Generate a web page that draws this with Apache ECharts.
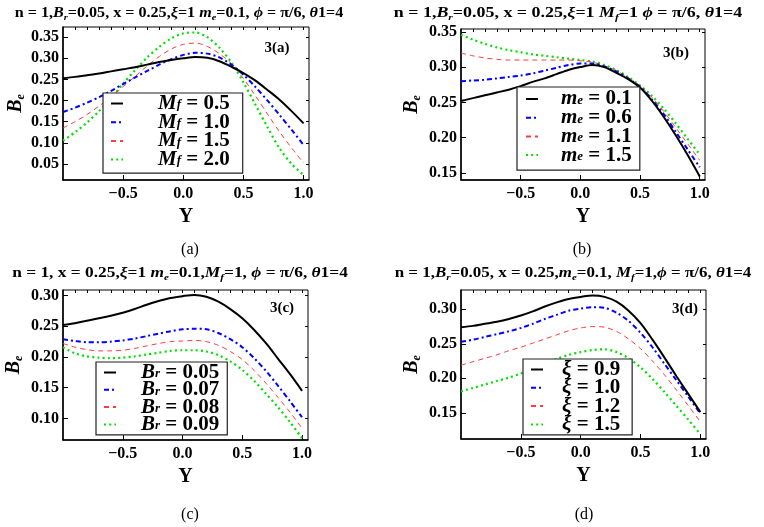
<!DOCTYPE html>
<html>
<head>
<meta charset="utf-8">
<script src="https://cdn.jsdelivr.net/npm/echarts@6/dist/echarts.min.js"></script>
<style>
  html, body { margin: 0; background: #fff; }
  #chart { width: 764px; height: 527px; }
</style>
</head>
<body>
<div id="chart"></div>
<script>
// Y positions sampled across the channel
const yPos = [-1.0, -0.9, -0.8, -0.7, -0.6, -0.5, -0.4, -0.3, -0.2, -0.1, 0.0,
  0.1, 0.2, 0.3, 0.4, 0.5, 0.6, 0.7, 0.8, 0.9, 1.0];

const xTicks = [-0.5, 0.0, 0.5, 1.0];
const topTicks = [-0.9, -0.8, -0.7, -0.6, -0.5, -0.4, -0.3, -0.2, -0.1, 0.0,
  0.1, 0.2, 0.3, 0.4, 0.5, 0.6, 0.7, 0.8, 0.9, 1.0];
const yTicksA = [0.05, 0.10, 0.15, 0.20, 0.25, 0.30, 0.35];
const yTicksB = [0.15, 0.20, 0.25, 0.30, 0.35];
const yTicksC = [0.10, 0.15, 0.20, 0.25, 0.30];
const yTicksD = [0.15, 0.20, 0.25, 0.30];

// 3(a) M_f
const mfValues = ['0.5', '1.0', '1.5', '2.0'];
const beMf05 = [0.253, 0.256, 0.260, 0.264, 0.269, 0.274, 0.279, 0.285, 0.291, 0.296, 0.300, 0.303, 0.301, 0.293, 0.280, 0.265, 0.247, 0.225, 0.202, 0.175, 0.146];
const beMf10 = [0.173, 0.183, 0.195, 0.208, 0.223, 0.239, 0.255, 0.270, 0.285, 0.298, 0.308, 0.313, 0.311, 0.302, 0.285, 0.261, 0.232, 0.200, 0.166, 0.131, 0.095];
const beMf15 = [0.135, 0.150, 0.167, 0.187, 0.209, 0.233, 0.257, 0.282, 0.304, 0.322, 0.333, 0.336, 0.328, 0.311, 0.287, 0.252, 0.211, 0.168, 0.126, 0.088, 0.052];
const beMf20 = [0.105, 0.125, 0.148, 0.175, 0.205, 0.240, 0.272, 0.302, 0.327, 0.347, 0.359, 0.361, 0.350, 0.325, 0.290, 0.243, 0.190, 0.137, 0.087, 0.050, 0.024];

// 3(b) m_e
const meValues = ['0.1', '0.6', '1.1', '1.5'];
const beMe01 = [0.252, 0.256, 0.260, 0.264, 0.268, 0.273, 0.279, 0.284, 0.290, 0.296, 0.300, 0.303, 0.300, 0.292, 0.283, 0.271, 0.252, 0.229, 0.203, 0.175, 0.145];
const beMe06 = [0.280, 0.281, 0.282, 0.284, 0.286, 0.288, 0.291, 0.295, 0.299, 0.303, 0.305, 0.305, 0.301, 0.294, 0.284, 0.272, 0.254, 0.233, 0.208, 0.183, 0.158];
const beMe11 = [0.320, 0.316, 0.313, 0.311, 0.310, 0.310, 0.310, 0.310, 0.310, 0.310, 0.309, 0.307, 0.302, 0.295, 0.285, 0.273, 0.257, 0.237, 0.214, 0.191, 0.168];
const beMe15 = [0.346, 0.339, 0.333, 0.328, 0.324, 0.321, 0.318, 0.316, 0.314, 0.312, 0.310, 0.308, 0.303, 0.296, 0.286, 0.274, 0.259, 0.241, 0.220, 0.198, 0.176];

// 3(c) B_r
const brValues = ['0.05', '0.07', '0.08', '0.09'];
const beBr05 = [0.252, 0.255, 0.259, 0.263, 0.267, 0.272, 0.278, 0.285, 0.291, 0.296, 0.299, 0.301, 0.298, 0.290, 0.278, 0.263, 0.244, 0.222, 0.197, 0.172, 0.145];
const beBr07 = [0.229, 0.226, 0.224, 0.224, 0.225, 0.227, 0.230, 0.234, 0.238, 0.242, 0.245, 0.246, 0.245, 0.239, 0.229, 0.216, 0.198, 0.177, 0.153, 0.128, 0.102];
const beBr08 = [0.222, 0.216, 0.212, 0.210, 0.210, 0.211, 0.214, 0.218, 0.222, 0.225, 0.226, 0.227, 0.225, 0.219, 0.209, 0.196, 0.178, 0.157, 0.134, 0.110, 0.084];
const beBr09 = [0.216, 0.206, 0.201, 0.199, 0.198, 0.199, 0.201, 0.204, 0.207, 0.210, 0.211, 0.211, 0.209, 0.203, 0.193, 0.179, 0.161, 0.140, 0.118, 0.094, 0.068];

// 3(d) xi
const xiValues = ['0.9', '1.0', '1.2', '1.5'];
const beXi09 = [0.274, 0.276, 0.279, 0.282, 0.286, 0.291, 0.297, 0.304, 0.310, 0.315, 0.318, 0.320, 0.318, 0.311, 0.298, 0.280, 0.256, 0.230, 0.203, 0.177, 0.151];
const beXi10 = [0.253, 0.256, 0.260, 0.264, 0.268, 0.273, 0.279, 0.286, 0.292, 0.298, 0.301, 0.303, 0.302, 0.295, 0.283, 0.266, 0.245, 0.221, 0.197, 0.173, 0.149];
const beXi12 = [0.219, 0.224, 0.229, 0.234, 0.240, 0.245, 0.251, 0.257, 0.263, 0.269, 0.273, 0.275, 0.274, 0.268, 0.257, 0.243, 0.225, 0.205, 0.183, 0.160, 0.137];
const beXi15 = [0.181, 0.186, 0.191, 0.196, 0.201, 0.207, 0.214, 0.221, 0.228, 0.234, 0.238, 0.241, 0.242, 0.238, 0.229, 0.216, 0.199, 0.180, 0.160, 0.140, 0.119];

const FONT = 'Liberation Serif';

// black solid, blue dot-dash, red dashed, green dotted
const lineStyles = [
  { color: '#000000', width: 2, type: 'solid' },
  { color: '#0000ff', width: 2, type: [5, 3, 2, 3] },
  { color: '#ff3b3b', width: 1, type: [5, 4] },
  { color: '#00e000', width: 2.2, type: [2, 3.2] }
];

const bold = { fontFamily: FONT, fontWeight: 'bold', fontSize: 14, lineHeight: 18, color: '#000' };
const titleRich = {
  b: bold,
  i: { ...bold, fontStyle: 'italic' },
  s: { ...bold, fontStyle: 'italic', fontSize: 9, lineHeight: 9, verticalAlign: 'bottom' }
};

const panels = [
  {
    grid: { left: 63, top: 27, width: 246, height: 153 },
    xMax: 1.045, yMin: 0.012, yMax: 0.374, yTicks: yTicksA, nameGap: 24,
    sym: 'M', sub: 'f', vals: mfValues, data: [beMf05, beMf10, beMf15, beMf20],
    legend: { left: 103, top: 93, padding: [0, 13, 3, 7], gap: 30, itemGap: -2.3 },
    title: '{b|n = 1,}{i|B}{s|r}{b|=0.05, x = 0.25,}{i|ξ}{b|=1 }{i|m}{s|e}{b|=0.1, }{i|ϕ}{b| = π/6, }{i|θ}{b|1=4}',
    titlePos: [179, 13], titleScale: 1.15, tag: '3(a)', tagPos: [277, 48], cap: '(a)', capPos: [190, 250]
  },
  {
    grid: { left: 461, top: 29, width: 244, height: 151 },
    xMax: 1.044, yMin: 0.140, yMax: 0.354, yTicks: yTicksB, nameGap: 38,
    sym: 'm', sub: 'e', vals: meValues, data: [beMe01, beMe06, beMe11, beMe15],
    legend: { left: 517, top: 87, padding: [1.5, 8, 4.5, 8], gap: 18, itemGap: -2.3 },
    title: '{b|n = 1,}{i|B}{s|r}{b|=0.05, x = 0.25,}{i|ξ}{b|=1 }{i|M}{s|f}{b|=1 }{i|ϕ}{b| = π/6, }{i|θ}{b|1=4}',
    titlePos: [568, 13], titleScale: 1.28, tag: '3(b)', tagPos: [676, 53], cap: '(b)', capPos: [582, 250]
  },
  {
    grid: { left: 63, top: 290, width: 245, height: 150 },
    xMax: 1.05, yMin: 0.065, yMax: 0.309, yTicks: yTicksC, nameGap: 38,
    sym: 'B', sub: 'r', vals: brValues, data: [beBr05, beBr07, beBr08, beBr09],
    legend: { left: 96, top: 362, padding: [0, 8, 0, 7], gap: 20, itemGap: -3.7 },
    title: '{b|n = 1, x = 0.25,}{i|ξ}{b|=1 }{i|m}{s|e}{b|=0.1,}{i|M}{s|f}{b|=1, }{i|ϕ}{b| = π/6, }{i|θ}{b|1=4}',
    titlePos: [180, 273], titleScale: 1.24, tag: '3(c)', tagPos: [282, 308], cap: '(c)', capPos: [190, 515]
  },
  {
    grid: { left: 461, top: 290, width: 245, height: 149 },
    xMax: 1.047, yMin: 0.112, yMax: 0.328, yTicks: yTicksD, nameGap: 38,
    sym: 'ξ', sub: '', vals: xiValues, data: [beXi09, beXi10, beXi12, beXi15],
    legend: { left: 523, top: 359, padding: [0, 12, 0, 7], gap: 14, itemGap: -2.7 },
    title: '{b|n = 1,}{i|B}{s|r}{b|=0.05, x = 0.25,}{i|m}{s|e}{b|=0.1, }{i|M}{s|f}{b|=1,}{i|ϕ}{b| = π/6, }{i|θ}{b|1=4}',
    titlePos: [573, 273], titleScale: 1.21, tag: '3(d)', tagPos: [685, 309], cap: '(d)', capPos: [584, 515]
  }
];

const fmtTick = (v) => (v < 0 ? '\u2212' : '') + Math.abs(v).toFixed(1);
const tickLabel = { color: '#000', fontFamily: FONT, fontWeight: 'bold', fontSize: 16 };

const grid = [], xAxis = [], yAxis = [], series = [], legend = [], graphic = [];

panels.forEach((p, k) => {
  grid.push({ ...p.grid, show: true, borderColor: '#000', borderWidth: 1, backgroundColor: '#fff' });

  xAxis.push({
    type: 'value', gridIndex: k, min: -1, max: p.xMax,
    name: 'Y', nameLocation: 'middle', nameGap: 27,
    nameTextStyle: { color: '#000', fontFamily: FONT, fontWeight: 'bold', fontSize: 20 },
    axisLine: { show: true, onZero: false, lineStyle: { color: '#000', width: 1.5 } },
    axisTick: { inside: true, length: 5, customValues: xTicks, lineStyle: { color: '#000' } },
    axisLabel: { ...tickLabel, margin: 6, customValues: xTicks, formatter: fmtTick },
    splitLine: { show: false }
  });
  xAxis.push({
    type: 'value', gridIndex: k, min: -1, max: p.xMax, position: 'top',
    axisLine: { show: false, onZero: false },
    axisTick: { inside: true, length: 3, customValues: topTicks, lineStyle: { color: '#000' } },
    axisLabel: { show: false }, splitLine: { show: false }
  });

  yAxis.push({
    type: 'value', gridIndex: k, min: p.yMin, max: p.yMax,
    name: '{i|B}{s|e}', nameLocation: 'middle', nameGap: p.nameGap, nameRotate: 90,
    nameTextStyle: {
      rich: {
        i: { fontFamily: FONT, fontWeight: 'bold', fontStyle: 'italic', fontSize: 20, lineHeight: 22, color: '#000' },
        s: { fontFamily: FONT, fontWeight: 'bold', fontStyle: 'italic', fontSize: 12, lineHeight: 10, verticalAlign: 'bottom', color: '#000' }
      }
    },
    axisLine: { show: true, onZero: false, lineStyle: { color: '#000', width: 1.5 } },
    axisTick: { inside: true, length: 5, customValues: p.yTicks, lineStyle: { color: '#000' } },
    axisLabel: { ...tickLabel, margin: 4, customValues: p.yTicks, formatter: (v) => v.toFixed(2) },
    splitLine: { show: false }
  });
  yAxis.push({
    type: 'value', gridIndex: k, min: p.yMin, max: p.yMax, position: 'right',
    axisLine: { show: false, onZero: false },
    axisTick: { inside: true, length: 3, customValues: p.yTicks, lineStyle: { color: '#000' } },
    axisLabel: { show: false }, splitLine: { show: false }
  });

  const names = p.vals.map((v) => 'p' + k + '_' + v);
  const labels = {};
  p.data.forEach((vals, j) => {
    labels[names[j]] = '{sp| }{m|' + p.sym + '}' + (p.sub ? '{s|' + p.sub + '}' : '') + '{t| = ' + p.vals[j] + '}';
    series.push({
      name: names[j], type: 'line', xAxisIndex: 2 * k, yAxisIndex: 2 * k,
      data: yPos.map((y, i) => [y, vals[i]]),
      smooth: 0.3, symbol: 'none', z: 10 - j,
      lineStyle: lineStyles[j], itemStyle: { color: lineStyles[j].color }
    });
  });

  legend.push({
    data: names, orient: 'vertical', left: p.legend.left, top: p.legend.top,
    padding: p.legend.padding, itemGap: p.legend.itemGap, itemWidth: 12, itemHeight: 8,
    borderColor: '#222', borderWidth: 1.2, backgroundColor: '#fff', z: 20,
    selectedMode: false,
    itemStyle: { opacity: 0 },
    formatter: (n) => labels[n],
    textStyle: {
      fontFamily: FONT, fontWeight: 'bold', fontSize: 21, lineHeight: 16, color: '#000',
      rich: {
        sp: { width: p.legend.gap, fontSize: 10, lineHeight: 16 },
        m: { fontFamily: FONT, fontWeight: 'bold', fontStyle: 'italic', fontSize: 21, lineHeight: 16, color: '#000' },
        s: { fontFamily: FONT, fontWeight: 'bold', fontStyle: 'italic', fontSize: 13, lineHeight: 1, verticalAlign: 'bottom', color: '#000' },
        t: { fontFamily: FONT, fontWeight: 'bold', fontSize: 21, lineHeight: 16, color: '#000' }
      }
    }
  });

  graphic.push({
    type: 'text', x: p.titlePos[0], y: p.titlePos[1], scaleX: p.titleScale,
    style: { text: p.title, rich: titleRich, align: 'center', verticalAlign: 'middle' }
  });
  graphic.push({
    type: 'text', x: p.tagPos[0], y: p.tagPos[1], z: 30,
    style: { text: p.tag, fill: '#000', font: 'bold 15px "Liberation Serif"', align: 'center', verticalAlign: 'middle' }
  });
  graphic.push({
    type: 'text', x: p.capPos[0], y: p.capPos[1],
    style: { text: p.cap, fill: '#000', font: '16px "Liberation Serif"', align: 'center', verticalAlign: 'middle' }
  });
});

const chart = echarts.init(document.getElementById('chart'), null, { renderer: 'canvas' });
chart.setOption({
  backgroundColor: '#fff',
  animation: false,
  grid, xAxis, yAxis, series, legend, graphic
});
</script>
</body>
</html>
